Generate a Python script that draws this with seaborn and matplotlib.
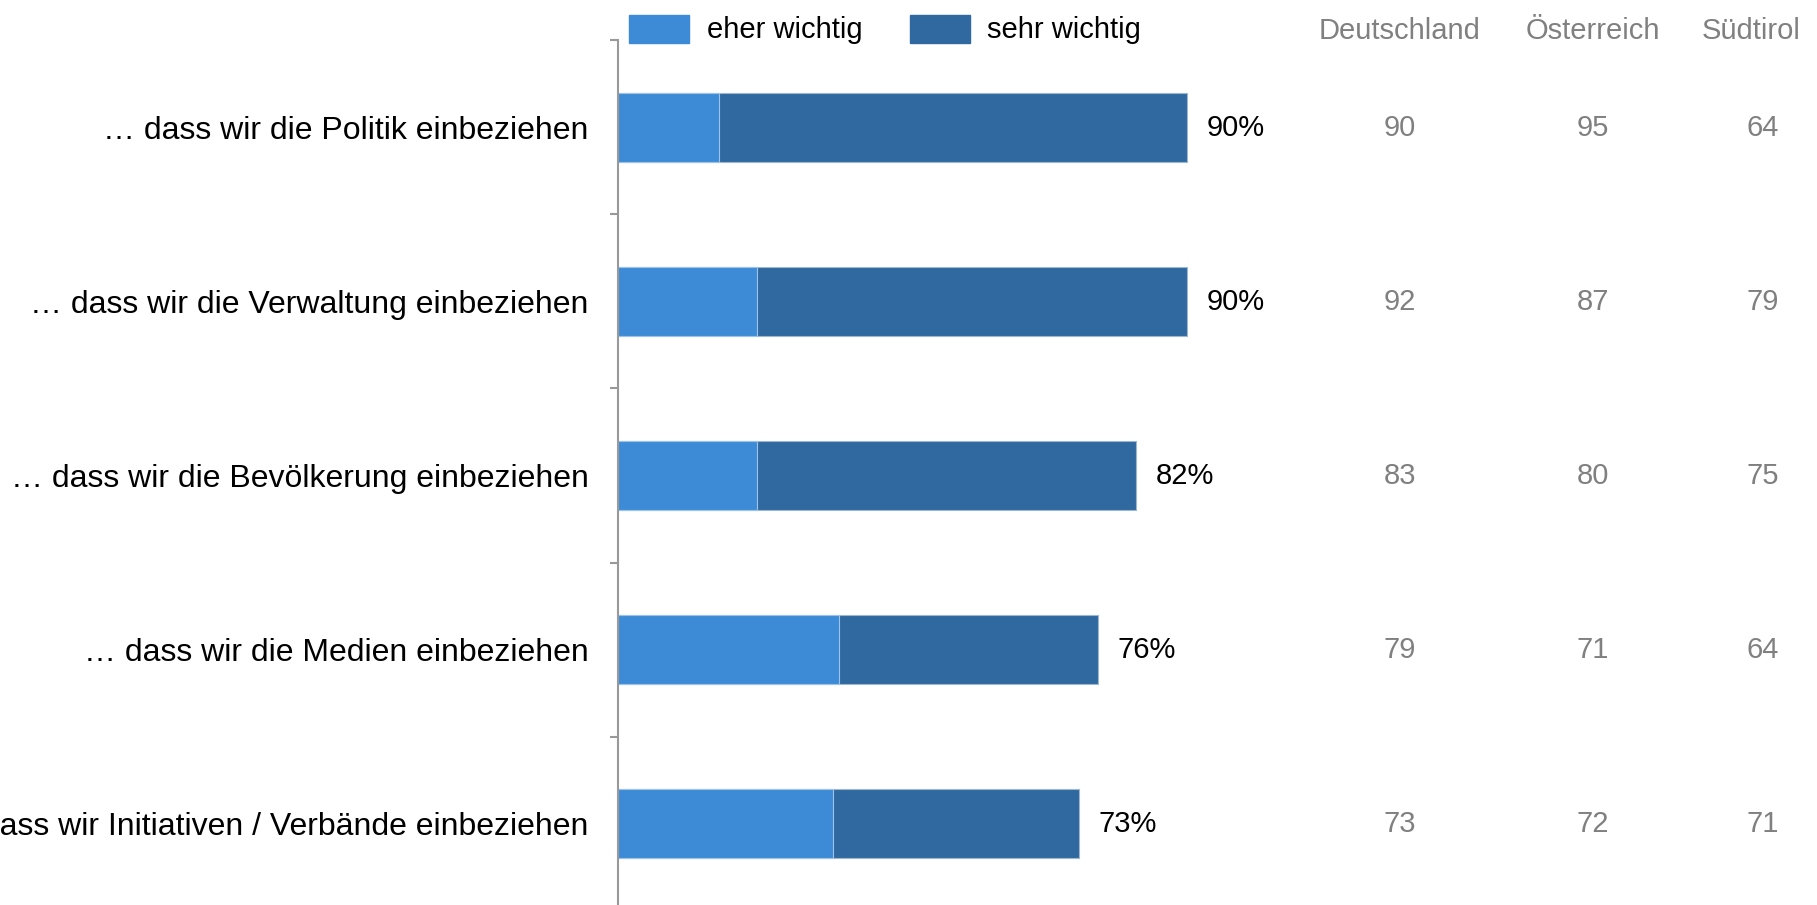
import matplotlib
matplotlib.use("Agg")
import matplotlib.pyplot as plt
import matplotlib.transforms as mtransforms
from matplotlib.patches import Rectangle
import seaborn as sns
import pandas as pd
import numpy as np

# ---- data ----
categories = [
    "… dass wir die Politik einbeziehen",
    "… dass wir die Verwaltung einbeziehen",
    "… dass wir die Bevölkerung einbeziehen",
    "… dass wir die Medien einbeziehen",
    "… dass wir Initiativen / Verbände einbeziehen",
]
eher_wichtig = [16, 22, 22, 35, 34]
sehr_wichtig = [74, 68, 60, 41, 39]
totals = [90, 90, 82, 76, 73]
deutschland = [90, 92, 83, 79, 73]
oesterreich = [95, 87, 80, 71, 72]
suedtirol = [64, 79, 75, 64, 71]
region_names = ["Deutschland", "Österreich", "Südtirol"]
legend_labels = ["eher wichtig", "sehr wichtig"]

col_light = "#3D8BD6"
col_dark = "#3069A0"
grey_txt = "#808080"

sns.set_theme(style="white")
plt.rcParams["font.family"] = ["Liberation Sans", "DejaVu Sans"]

df = pd.DataFrame({"cat": categories, "eher": eher_wichtig,
                   "sehr": sehr_wichtig, "total": totals})

fig = plt.figure(figsize=(18.17, 9.05), dpi=100)
ax = fig.add_axes([617.7 / 1817, -5.5 / 905, (1250 - 617.7) / 1817, (910.5 - 40.5) / 905])

# stacked: draw totals (dark) first, then light segment on top
sns.barplot(data=df, y="cat", x="total", order=categories, color=col_dark,
            orient="h", width=0.4, ax=ax, saturation=1,
            edgecolor="#9DB7D3", linewidth=0.8)
tot_container = ax.containers[0]
sns.barplot(data=df, y="cat", x="eher", order=categories, color=col_light,
            orient="h", width=0.4, ax=ax, saturation=1,
            edgecolor="#9DC3EA", linewidth=0.8)

ax.bar_label(tot_container, labels=[f"{v}%" for v in totals], padding=14,
             fontsize=21, color="black")

ax.set_xlim(0, 100)
ax.set_ylim(4.5, -0.5)
ax.set_xlabel("")
ax.set_ylabel("")
ax.set_xticks([])
for s in ["top", "right", "bottom"]:
    ax.spines[s].set_visible(False)
ax.spines["left"].set_color("#999999")
ax.spines["left"].set_linewidth(1.5)
ax.tick_params(axis="y", which="major", length=0, pad=21, labelsize=23,
               labelcolor="black")
ax.set_yticks(np.arange(-0.5, 5.0, 1.0), minor=True)
ax.tick_params(axis="y", which="minor", length=6, width=1.5, color="#999999", left=True)

# country columns
trans = mtransforms.blended_transform_factory(fig.transFigure, ax.transData)
col_x = [1400 / 1817, 1593 / 1817, 1762.5 / 1817]
head_x = [1400 / 1817, 1593 / 1817, 1751.5 / 1817]
for xpos, hx, name, vals in zip(col_x, head_x, region_names,
                                [deutschland, oesterreich, suedtirol]):
    fig.text(hx, 1 - 31 / 905, name, ha="center", va="center",
             fontsize=21, color=grey_txt)
    for i, v in enumerate(vals):
        ax.text(xpos, i, str(v), transform=trans, ha="center", va="center",
                fontsize=21, color=grey_txt, clip_on=False)

# legend
for (x0, x1, tx), lab, c in zip([(629, 689, 707), (910, 970, 987)], legend_labels,
                                [col_light, col_dark]):
    fig.patches.append(Rectangle((x0 / 1817, 1 - 43 / 905), (x1 - x0) / 1817, 28 / 905,
                                 transform=fig.transFigure, color=c))
    fig.text(tx / 1817, 1 - 30 / 905, lab, ha="left", va="center",
             fontsize=21, color="black")

fig.savefig("out.png", dpi=100, facecolor="white")
